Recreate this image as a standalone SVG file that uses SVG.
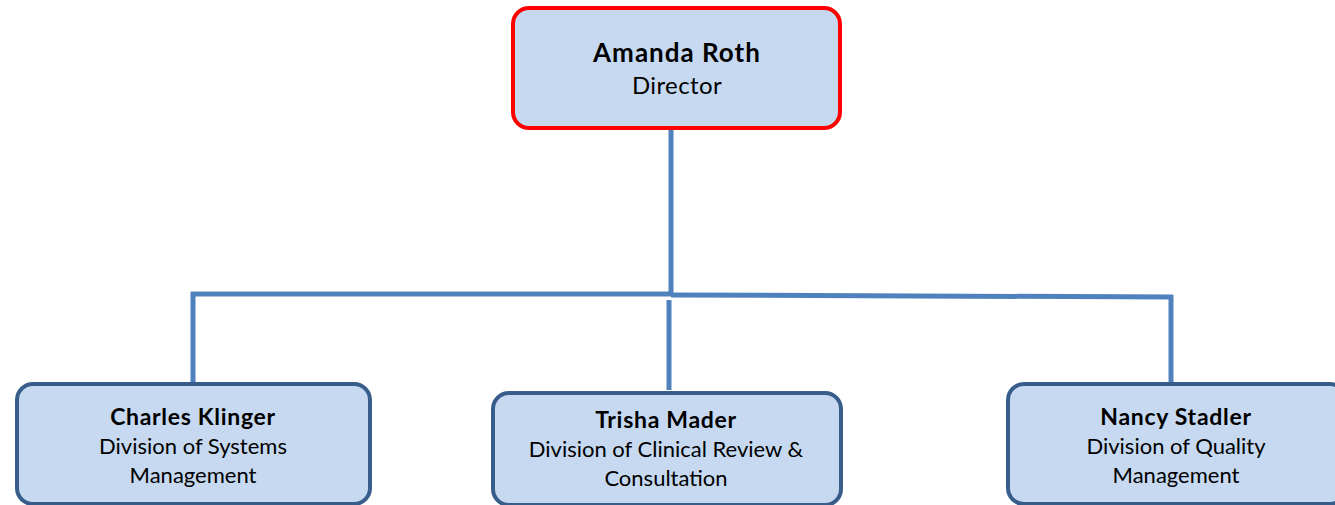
<svg xmlns="http://www.w3.org/2000/svg" width="1335" height="505" viewBox="0 0 1335 505">
<style>
.box{fill:#c6d9f1;stroke:#385d8a;stroke-width:4}
.top{fill:#c6d9f1;stroke:#ff0000;stroke-width:4}
.conn{stroke:#4f81bd;stroke-width:5;fill:none}
text{font-family:Lato,"Open Sans",sans-serif;fill:#000;text-anchor:middle}
.n{font-weight:bold;font-size:23px;letter-spacing:0.7px}
.t{font-size:22px}
.nb{font-weight:bold;font-size:26px;letter-spacing:1px}
.tb{font-size:24px;letter-spacing:0.4px}
</style>
<rect width="1335" height="505" fill="#ffffff"/>
<g id="connectors">
<line class="conn" x1="671" y1="128" x2="671" y2="294"/>
<line class="conn" x1="191" y1="294" x2="671" y2="294"/>
<line class="conn" x1="671" y1="295" x2="1173" y2="297"/>
<line class="conn" x1="193" y1="292" x2="193" y2="384"/>
<line class="conn" x1="669" y1="300" x2="669" y2="390"/>
<line class="conn" x1="1171" y1="295" x2="1171" y2="384"/>
</g>
<g id="node-amanda">
<rect class="top" x="513" y="8" width="327" height="120" rx="16"/>
<text class="nb" x="677" y="62">Amanda Roth</text>
<text class="tb" x="677" y="94">Director</text>
</g>
<g id="node-charles">
<rect class="box" x="17" y="384" width="353" height="120" rx="16"/>
<text class="n" x="193" y="425">Charles Klinger</text>
<text class="t" x="193" y="454">Division of Systems</text>
<text class="t" x="193" y="483">Management</text>
</g>
<g id="node-trisha">
<rect class="box" x="493" y="393" width="348" height="112" rx="16"/>
<text class="n" x="666" y="428">Trisha Mader</text>
<text class="t" x="666" y="457">Division of Clinical Review &amp;</text>
<text class="t" x="666" y="486">Consultation</text>
</g>
<g id="node-nancy">
<rect class="box" x="1008" y="384" width="338" height="120" rx="16"/>
<text class="n" x="1176" y="425">Nancy Stadler</text>
<text class="t" x="1176" y="454">Division of Quality</text>
<text class="t" x="1176" y="483">Management</text>
</g>
</svg>
